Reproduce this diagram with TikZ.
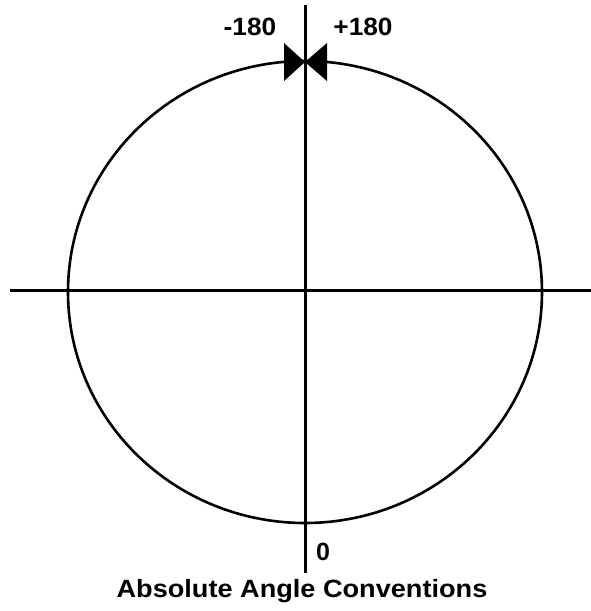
\documentclass[tikz,border=0pt]{standalone}
\usepackage{fontspec}
\setmainfont{Liberation Sans}
\begin{document}
\begin{tikzpicture}[x=1pt,y=-1pt,
  axis/.style={line width=3pt},
  ring/.style={line width=2.6pt},
  tip/.style={fill=black},
  lbl/.style={font=\bfseries\fontsize{25}{27}\selectfont, inner sep=0pt}]
\useasboundingbox (0,0) rectangle (591,611);
\coordinate (c) at (305,292);
\draw[ring] (c) ellipse [x radius=237, y radius=231];
\coordinate (vt) at (305,5);
\coordinate (vb) at (305,573);
\coordinate (hl) at (10,290);
\coordinate (hr) at (591,290);
\draw[axis] (vt) -- (vb);
\draw[axis] (hl) -- (hr);
\fill[tip] (305,62) -- (284,43) -- (284,81) -- cycle;
\fill[tip] (305,62) -- (327,43) -- (327,81) -- cycle;
\node[lbl, xscale=1.05] (m180) at (250,27) {-180};
\node[lbl, xscale=1.05] (p180) at (363,27) {+180};
\node[lbl] (zero) at (323,552) {0};
\node[lbl, xscale=1.085] (title) at (302,591) {Absolute Angle Conventions};
\end{tikzpicture}
\end{document}
